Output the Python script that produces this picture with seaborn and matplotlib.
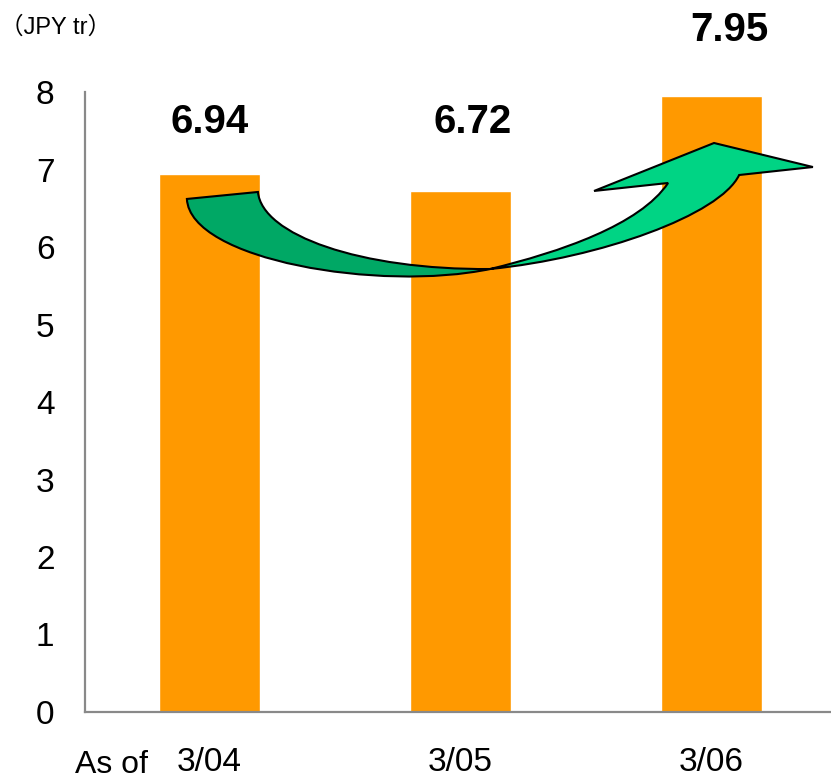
import matplotlib
matplotlib.use("Agg")
import matplotlib.pyplot as plt
from matplotlib.path import Path
from matplotlib.patches import PathPatch
import seaborn as sns
import pandas as pd

# Balance at each fiscal year end (JPY trillion)
periods = ["3/04", "3/05", "3/06"]
balances = [6.94, 6.72, 7.95]
y_ticks = [0, 1, 2, 3, 4, 5, 6, 7, 8]
unit_label = "（JPY tr）"
prefix_label = "As of"

BAR_COLOR = "#FF9900"
SPINE_COLOR = "#898989"
DARK_GREEN = "#00A865"
LIGHT_GREEN = "#00D484"

sns.set_theme(style="white")
plt.rcParams["font.family"] = ["Liberation Sans", "Noto Sans CJK JP", "DejaVu Sans"]
plt.rcParams["text.color"] = "black"

df = pd.DataFrame({"period": periods, "balance": balances})

fig = plt.figure(figsize=(8.31, 7.79), dpi=100)
ax = fig.add_axes([85 / 831, 1 - 712 / 779, 746 / 831, 620 / 779])

sns.barplot(data=df, x="period", y="balance", color=BAR_COLOR,
            saturation=1, width=0.4, ax=ax, zorder=2)

ax.set_xlim(-0.496, 2.476)
ax.set_ylim(0, 8)
ax.set_yticks(y_ticks)
ax.set_xlabel("")
ax.set_ylabel("")
ax.tick_params(axis="y", length=0, pad=22, labelsize=24, colors="black")
ax.tick_params(axis="x", length=0, pad=25, labelsize=24, colors="black")

for side in ("top", "right"):
    ax.spines[side].set_visible(False)
for side in ("left", "bottom"):
    ax.spines[side].set_color(SPINE_COLOR)
    ax.spines[side].set_linewidth(1.6)

# Value labels above the bars
label_pos = [(0.0, 7.61), (1.05, 7.61), (2.07, 8.80)]
for (lx, ly), v in zip(label_pos, balances):
    ax.text(lx, ly, f"{v:.2f}", ha="center", va="center", fontsize=29,
            fontweight="bold", color="black", clip_on=False, zorder=5)

# Curved growth arrow: a twisted ribbon, darker underside on the left
left_verts = [
    (-0.090, 6.62), (0.193, 6.71),
    (0.209, 6.155), (0.600, 5.703), (1.118, 5.716),
    (0.679, 5.419), (-0.078, 5.832), (-0.090, 6.62),
    (-0.090, 6.62),
]
left_codes = [Path.MOVETO, Path.LINETO,
              Path.CURVE4, Path.CURVE4, Path.CURVE4,
              Path.CURVE4, Path.CURVE4, Path.CURVE4,
              Path.CLOSEPOLY]
right_verts = [
    (1.118, 5.716),
    (1.396, 5.935), (1.715, 6.284), (1.827, 6.826),
    (1.532, 6.723), (2.010, 7.342), (2.404, 7.032), (2.110, 6.929),
    (2.034, 6.413), (1.556, 5.858), (1.118, 5.716),
    (1.118, 5.716),
]
right_codes = [Path.MOVETO,
               Path.CURVE4, Path.CURVE4, Path.CURVE4,
               Path.LINETO, Path.LINETO, Path.LINETO, Path.LINETO,
               Path.CURVE4, Path.CURVE4, Path.CURVE4,
               Path.CLOSEPOLY]
ax.add_patch(PathPatch(Path(left_verts, left_codes), facecolor=DARK_GREEN,
                       edgecolor="black", linewidth=1.5, zorder=4,
                       joinstyle="miter", clip_on=False))
ax.add_patch(PathPatch(Path(right_verts, right_codes), facecolor=LIGHT_GREEN,
                       edgecolor="black", linewidth=1.5, zorder=4,
                       joinstyle="miter", clip_on=False))

fig.text(0.0, 1 - 27 / 779, unit_label, ha="left", va="center", fontsize=17,
         color="black")
fig.text(75 / 831, 6 / 779, prefix_label, ha="left", va="baseline", fontsize=23,
         color="black")

fig.savefig("out.png", dpi=100, facecolor="white")
